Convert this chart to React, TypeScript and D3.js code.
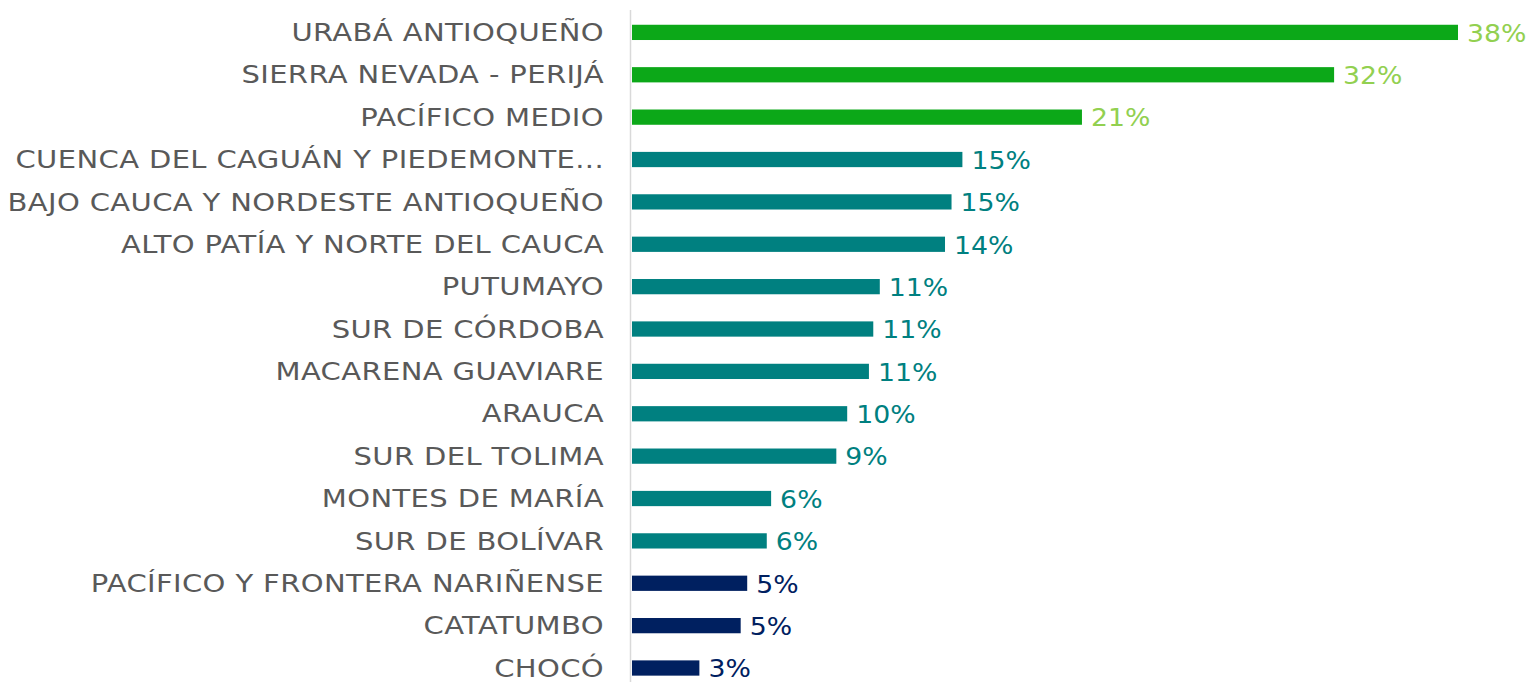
import React from "react";
import * as d3 from "d3";

const categories = [
  "URABÁ ANTIOQUEÑO",
  "SIERRA NEVADA - PERIJÁ",
  "PACÍFICO MEDIO",
  "CUENCA DEL CAGUÁN Y PIEDEMONTE...",
  "BAJO CAUCA Y NORDESTE ANTIOQUEÑO",
  "ALTO PATÍA Y NORTE DEL CAUCA",
  "PUTUMAYO",
  "SUR DE CÓRDOBA",
  "MACARENA GUAVIARE",
  "ARAUCA",
  "SUR DEL TOLIMA",
  "MONTES DE MARÍA",
  "SUR DE BOLÍVAR",
  "PACÍFICO Y FRONTERA NARIÑENSE",
  "CATATUMBO",
  "CHOCÓ",
];
const values = [38, 32.3, 20.7, 15.2, 14.7, 14.4, 11.4, 11.1, 10.9, 9.9, 9.4, 6.4, 6.2, 5.3, 5.0, 3.1];
const valueLabels = ["38%", "32%", "21%", "15%", "15%", "14%", "11%", "11%", "11%", "10%", "9%", "6%", "6%", "5%", "5%", "3%"];
const groups = ["high", "high", "high", "mid", "mid", "mid", "mid", "mid", "mid", "mid", "mid", "mid", "mid", "low", "low", "low"];

const barColor: Record<string, string> = { high: "#0ca818", mid: "#008080", low: "#002060" };
const labelColor: Record<string, string> = { high: "#92d050", mid: "#008080", low: "#002060" };

export default function App() {
  const W = 1538, H = 682;
  const x = d3.scaleLinear().domain([0, 38]).range([632, 1458]);
  const y = d3.scaleBand<string>().domain(categories).range([11.2, 689.2]).paddingInner(0.64).paddingOuter(0.32);
  const font = "'DejaVu Sans', sans-serif";
  return (
    <svg width={W} height={H} style={{ position: "absolute", left: 0, top: 0 }}>
      <line x1={630.5} x2={630.5} y1={10} y2={682} stroke="#d9d9d9" strokeWidth={1.5} />
      {categories.map((c, i) => {
        const yc = (y(c) as number) + y.bandwidth() / 2;
        return (
          <g key={c}>
            <rect x={x(0)} y={y(c)} width={x(values[i]) - x(0)} height={y.bandwidth()} fill={barColor[groups[i]]} />
            <text transform={`translate(604,${yc}) scale(1.21,1)`} dy="0.36em" textAnchor="end" fontFamily={font} fontSize={24} fill="#595959" letterSpacing={0.3}>
              {c}
            </text>
            <text transform={`translate(${x(values[i]) + 9},${yc}) scale(1.07,1)`} dy="0.37em" fontFamily={font} fontSize={25} fill={labelColor[groups[i]]}>
              {valueLabels[i]}
            </text>
          </g>
        );
      })}
    </svg>
  );
}
